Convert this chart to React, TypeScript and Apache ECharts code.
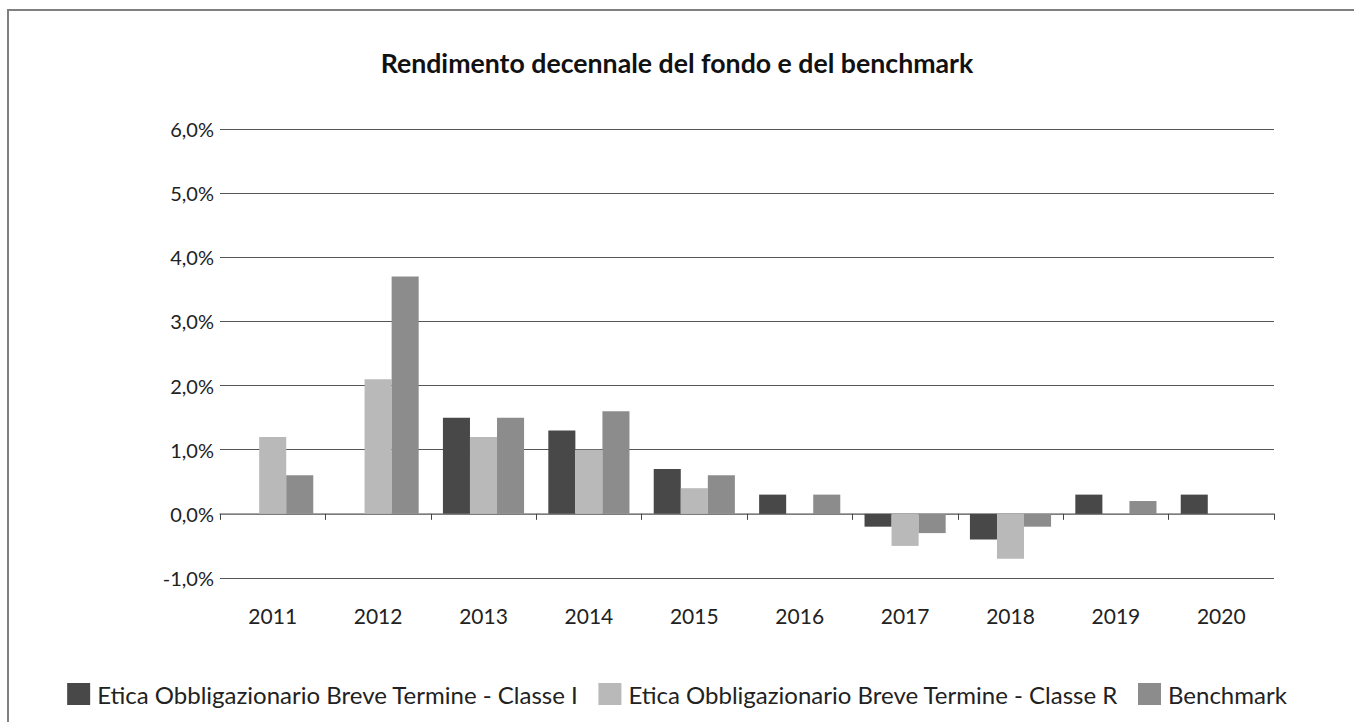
import React, { useEffect, useRef } from "react";
import * as echarts from "echarts";

const categories = ["2011", "2012", "2013", "2014", "2015", "2016", "2017", "2018", "2019", "2020"];
const seriesNames = [
  "Etica Obbligazionario Breve Termine - Classe I",
  "Etica Obbligazionario Breve Termine - Classe R",
  "Benchmark",
];
const classeI = [null, null, 1.5, 1.3, 0.7, 0.3, -0.2, -0.4, 0.3, 0.3];
const classeR = [1.2, 2.1, 1.2, 1.0, 0.4, null, -0.5, -0.7, null, null];
const benchmark = [0.6, 3.7, 1.5, 1.6, 0.6, 0.3, -0.3, -0.2, 0.2, null];
const colors = ["#484848", "#b9b9b9", "#8c8c8c"];
const titleText = "Rendimento decennale del fondo e del benchmark";

export default function App() {
  const ref = useRef<HTMLDivElement>(null);
  useEffect(() => {
    if (!ref.current) return;
    const chart = echarts.init(ref.current, null, { renderer: "svg" });
    const font = "Lato, 'Noto Sans', sans-serif";
    const values = [classeI, classeR, benchmark];
    chart.setOption({
      animation: false,
      textStyle: { fontFamily: font },
      title: {
        text: titleText,
        left: "center",
        top: 44,
        textStyle: { fontFamily: font, fontSize: 26.7, fontWeight: "bold", color: "#111" },
      },
      graphic: [
        {
          type: "rect",
          shape: { x: 8, y: 10, width: 1500, height: 900 },
          style: { fill: "none", stroke: "#808080", lineWidth: 2 },
          silent: true,
        },
      ],
      legend: {
        bottom: 11,
        left: "center",
        itemWidth: 23,
        itemHeight: 22,
        itemGap: 20,
        icon: "rect",
        textStyle: { fontFamily: font, fontSize: 24, color: "#222", padding: [0, 0, 0, 2] },
        data: seriesNames,
      },
      grid: { left: 220, right: 80, top: 129, bottom: 144 },
      xAxis: [
        {
          type: "category",
          data: categories,
          position: "bottom",
          axisLine: { onZero: true, lineStyle: { color: "#8a8a8a", width: 1.5 } },
          axisTick: { show: true, length: 6, lineStyle: { color: "#444" } },
          axisLabel: { show: false },
        },
        {
          type: "category",
          data: categories,
          position: "bottom",
          axisLine: { show: false, onZero: false },
          axisTick: { show: false },
          axisLabel: { show: true, margin: 27, fontFamily: font, fontSize: 21, color: "#222" },
        },
      ],
      yAxis: {
        type: "value",
        min: -1,
        max: 6,
        interval: 1,
        axisLine: { show: false },
        axisTick: { show: false },
        axisLabel: {
          margin: 6,
          fontFamily: font,
          fontSize: 20,
          color: "#222",
          formatter: (v: number) => v.toFixed(1).replace(".", ",") + "%",
        },
        splitLine: { show: true, lineStyle: { color: "#555", width: 1 } },
      },
      series: seriesNames.map((name, i) => ({
        name,
        type: "bar",
        xAxisIndex: 0,
        data: values[i],
        barGap: "0%",
        barCategoryGap: "23%",
        itemStyle: { color: colors[i] },
      })),
    });
    return () => chart.dispose();
  }, []);
  return (
    <div
      ref={ref}
      style={{ position: "fixed", left: 0, top: 0, width: 1354, height: 722, background: "#fff" }}
    />
  );
}
